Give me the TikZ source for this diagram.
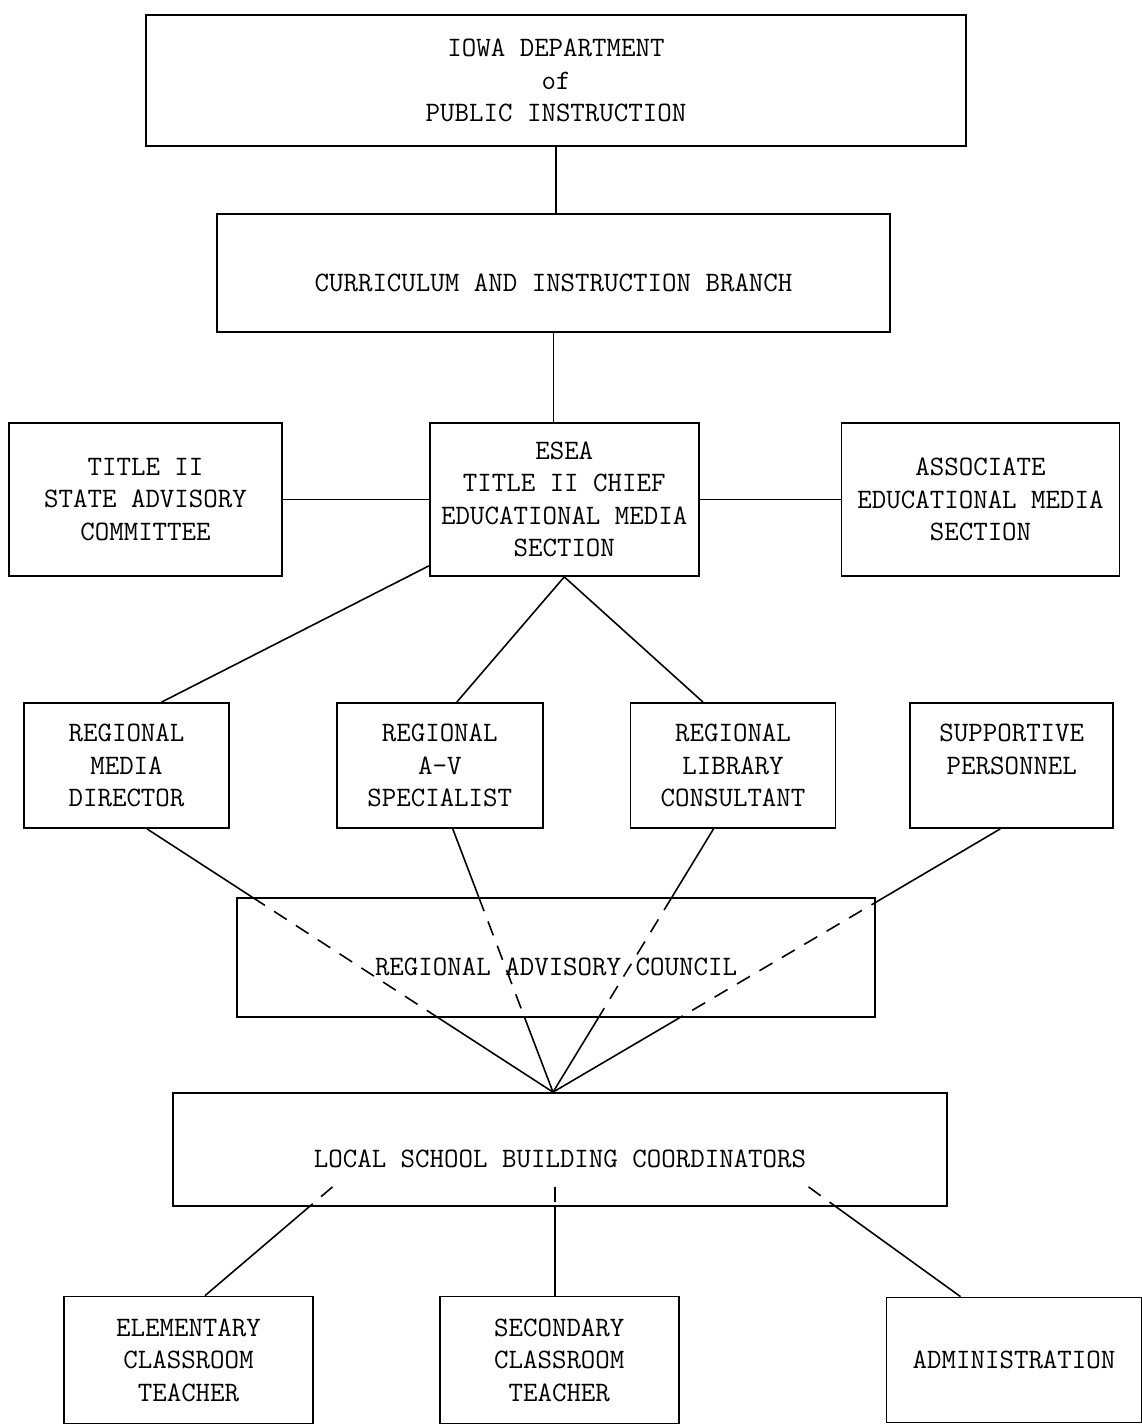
\documentclass[tikz,border=0pt]{standalone}
\usepackage{tikz}
\usetikzlibrary{calc}
\usetikzlibrary{positioning}

\tikzset{
  mybox/.style={
    draw=black,
    shape=rectangle,
    line width=1pt,
    align=center,
    inner sep=4pt,
    font=\ttfamily\fontsize{16}{18.5}\selectfont
  },
  mylowbox/.style={
    mybox,
    text height=0.74cm,
  },
  myline/.style={
    draw=black,
    line width=0.9pt,
  },
  mydashline/.style={
    draw=black,
    line width=0.9pt,
    dash pattern=on 0.3cm off 0.22cm,
  },
}

\begin{document}
\begin{tikzpicture}
    \useasboundingbox (0,0) rectangle (22.82,-28.52);

    \node[mybox, minimum width=16.4cm, minimum height=2.62cm] (iowa) at (11.12,-1.61) {IOWA DEPARTMENT\\of\\PUBLIC INSTRUCTION};
    \node[mylowbox, minimum width=13.46cm, minimum height=2.36cm] (branch) at (11.07,-5.46) {CURRICULUM AND INSTRUCTION BRANCH};

    \node[mybox, minimum width=5.46cm, minimum height=3.06cm] (advisory) at (2.91,-9.99) {TITLE II\\STATE ADVISORY\\COMMITTEE};
    \node[mybox, minimum width=5.38cm, minimum height=3.06cm] (chief) [right=2.92cm of advisory] {ESEA\\TITLE II CHIEF\\EDUCATIONAL MEDIA\\SECTION};
    \node[mybox, minimum width=5.56cm, minimum height=3.06cm] (associate) [right=2.82cm of chief] {ASSOCIATE\\EDUCATIONAL MEDIA\\SECTION};

    \node[mybox, minimum width=4.1cm, minimum height=2.5cm] (media) at (2.53,-15.31) {REGIONAL\\MEDIA\\DIRECTOR};
    \node[mybox, minimum width=4.12cm, minimum height=2.5cm] (av) [right=2.12cm of media] {REGIONAL\\A-V\\SPECIALIST};
    \node[mybox, minimum width=4.1cm, minimum height=2.5cm] (library) [right=1.72cm of av] {REGIONAL\\LIBRARY\\CONSULTANT};
    \node[mybox, minimum width=4.06cm, minimum height=2.5cm] (supportive) [right=1.46cm of library] {SUPPORTIVE\\PERSONNEL\\~};

    \node[mylowbox, minimum width=12.76cm, minimum height=2.38cm] (council) at (11.12,-19.15) {REGIONAL ADVISORY COUNCIL};
    \node[mylowbox, minimum width=15.48cm, minimum height=2.26cm] (local) at (11.2,-22.99) {LOCAL SCHOOL BUILDING COORDINATORS};

    \node[mybox, minimum width=4.98cm, minimum height=2.54cm] (elementary) at (3.77,-27.2) {ELEMENTARY\\CLASSROOM\\TEACHER};
    \node[mybox, minimum width=4.78cm, minimum height=2.54cm] (secondary) [right=2.5cm of elementary] {SECONDARY\\CLASSROOM\\TEACHER};
    \node[mybox, minimum width=5.1cm, minimum height=2.5cm] (admin) [right=4.12cm of secondary] {ADMINISTRATION};

    % state level
    \draw[myline] (iowa.south) -- (iowa.south |- branch.north);
    \draw[myline] (branch.south) -- (branch.south |- chief.north);
    \draw[myline] (advisory) -- (chief);
    \draw[myline] (chief) -- (associate);

    % chief to regional staff
    \draw[myline] ([yshift=0.22cm]chief.south west) -- ([xshift=0.7cm]media.north);
    \draw[myline] (chief.south) -- ([xshift=0.34cm]av.north);
    \draw[myline] (chief.south) -- ([xshift=-0.6cm]library.north);

    % regional staff through the council to the coordinators
    \coordinate (hub) at ([xshift=-0.14cm]local.north);
    \coordinate (mediaout) at ([xshift=0.41cm]media.south);
    \coordinate (avout) at ([xshift=0.26cm]av.south);
    \coordinate (libraryout) at ([xshift=-0.39cm]library.south);
    \coordinate (supportout) at ([xshift=-0.23cm]supportive.south);

    \coordinate (mediatop) at (intersection of mediaout--hub and council.north west--council.north east);
    \coordinate (mediabot) at (intersection of mediaout--hub and council.south west--council.south east);
    \coordinate (avtop) at (intersection of avout--hub and council.north west--council.north east);
    \coordinate (avbot) at (intersection of avout--hub and council.south west--council.south east);
    \coordinate (librarytop) at (intersection of libraryout--hub and council.north west--council.north east);
    \coordinate (librarybot) at (intersection of libraryout--hub and council.south west--council.south east);
    \coordinate (supporttop) at (intersection of supportout--hub and council.north west--council.north east);
    \coordinate (supportbot) at (intersection of supportout--hub and council.south west--council.south east);

    \draw[myline] (mediaout) -- (mediatop) (mediabot) -- (hub);
    \draw[mydashline] (mediatop) -- (mediabot);
    \draw[myline] (avout) -- (avtop) (avbot) -- (hub);
    \draw[mydashline] (avtop) -- (avbot);
    \draw[myline] (libraryout) -- (librarytop) (librarybot) -- (hub);
    \draw[mydashline] (librarytop) -- (librarybot);
    \draw[myline] (supportout) -- (supporttop) (supportbot) -- (hub);
    \draw[mydashline] (supporttop) -- (supportbot);

    % coordinators to the schools
    \coordinate (elemin) at ([xshift=0.33cm]elementary.north);
    \coordinate (adminin) at ([xshift=-1.07cm]admin.north);
    \coordinate (lsbleft) at ([shift={(-4.55cm,0.4cm)}]local.south);
    \coordinate (lsbmid) at ([shift={(-0.1cm,0.4cm)}]local.south);
    \coordinate (lsbright) at ([shift={(4.97cm,0.4cm)}]local.south);

    \coordinate (leftbot) at (intersection of lsbleft--elemin and local.south west--local.south east);
    \coordinate (midbot) at (lsbmid |- local.south);
    \coordinate (rightbot) at (intersection of lsbright--adminin and local.south west--local.south east);

    \draw[mydashline] (lsbleft) -- (leftbot);
    \draw[myline] (leftbot) -- (elemin);
    \draw[mydashline] (lsbmid) -- (midbot);
    \draw[myline] (midbot) -- (lsbmid |- secondary.north);
    \draw[mydashline] (lsbright) -- (rightbot);
    \draw[myline] (rightbot) -- (adminin);
  \end{tikzpicture}
\end{document}
